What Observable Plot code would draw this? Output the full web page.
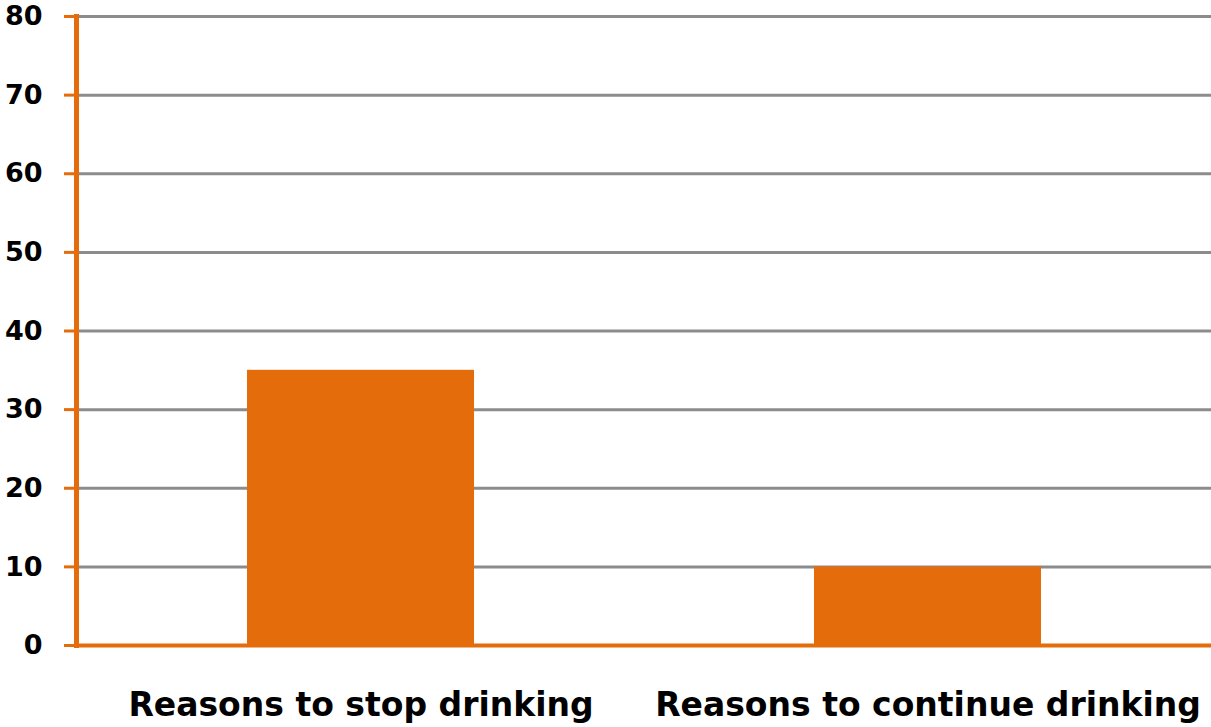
<!DOCTYPE html>
<html>
<head>
<meta charset="utf-8">
<script src="https://cdn.jsdelivr.net/npm/d3@7"></script>
<script src="https://cdn.jsdelivr.net/npm/@observablehq/plot@0.6"></script>
<style>
  html, body { margin: 0; padding: 0; background: #fff; }
  #chart svg { display: block; }
</style>
</head>
<body>
<div id="chart"></div>
<script>
const categories = ["Reasons to stop drinking", "Reasons to continue drinking"];
const values = [35, 10];
const yTicks = [0, 10, 20, 30, 40, 50, 60, 70, 80];

const data = categories.map((c, i) => ({category: c, value: values[i]}));
const orange = "#E46C0A";
const grey = "#8C8C8C";

const chart = Plot.plot({
  width: 1211,
  height: 727,
  marginLeft: 76,
  marginRight: 0,
  marginTop: 16,
  marginBottom: 82,
  style: {fontFamily: "'DejaVu Sans', sans-serif", fontWeight: "bold", background: "#fff", color: "#000"},
  x: {domain: categories, paddingInner: 0.6, paddingOuter: 0.3, label: null},
  y: {domain: [0, 80], ticks: yTicks, label: null},
  marks: [
    Plot.gridY(yTicks.filter(d => d > 0), {stroke: grey, strokeOpacity: 1, strokeWidth: 3}),
    Plot.barY(data, {x: "category", y: "value", fill: orange}),
    Plot.ruleY([0], {stroke: orange, strokeWidth: 4}),
    Plot.frame({anchor: "left", stroke: orange, strokeWidth: 5}),
    Plot.axisY(yTicks, {tickSize: 12, stroke: orange, strokeWidth: 3, tickPadding: 22, fontSize: 27, fill: "#000", fontWeight: "bold", label: null}),
    Plot.axisX({tickSize: 0, tickPadding: 47, fontSize: 33, fill: "#000", fontWeight: "bold", label: null})
  ]
});
document.getElementById("chart").appendChild(chart);
</script>
</body>
</html>
